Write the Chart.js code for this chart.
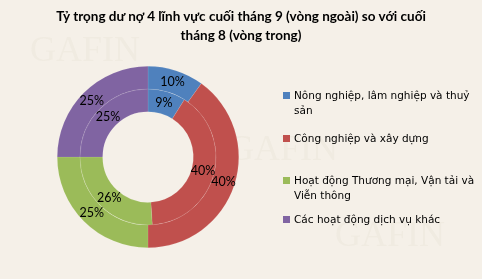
<!DOCTYPE html>
<html>
<head>
<meta charset="utf-8">
<script src="https://cdn.jsdelivr.net/npm/chart.js@4.4.1/dist/chart.umd.min.js"></script>
<style>
html,body{margin:0;padding:0;background:#F5F0E8;}
#wrap{position:relative;width:482px;height:279px;overflow:hidden;background:#F5F0E8;}
canvas{position:absolute;left:0;top:0;}
#title{position:absolute;left:0;top:7px;width:482px;text-align:center;font-family:Lato,"Open Sans",sans-serif;font-weight:bold;font-size:13.5px;line-height:19px;color:#000;}
#legend{position:absolute;left:283px;top:88px;width:192px;font-family:"DejaVu Sans",sans-serif;font-size:10.5px;line-height:15px;color:#000;}
.li{position:absolute;left:0;padding-left:11px;}
.sw{position:absolute;left:0;top:4px;width:7px;height:7px;}
</style>
</head>
<body>
<div id="wrap">
<canvas id="c" width="482" height="279"></canvas>
<div id="title">Tỷ trọng dư nợ 4 lĩnh vực cuối tháng 9 (vòng ngoài) so với cuối<br>tháng 8 (vòng trong)</div>
<div id="legend"></div>
</div>
<script>
const categories = ["Nông nghiệp, lâm nghiệp và thuỷ sản","Công nghiệp và xây dựng","Hoạt động Thương mại, Vận tải và Viễn thông","Các hoạt động dịch vụ khác"];
const septValues = [10, 40, 25, 25]; // outer ring
const augValues = [9, 40, 26, 25];   // inner ring
const colors = ["#4F81BD","#C0504D","#9BBB59","#8064A2"];

// HTML legend built from categories
const legendTops = [0, 43, 85, 124];
const leg = document.getElementById('legend');
categories.forEach((c,i)=>{
  const d = document.createElement('div');
  d.className='li';
  d.style.top = legendTops[i]+'px';
  d.style.width='185px';
  d.innerHTML = '<span class="sw" style="background:'+colors[i]+'"></span>'+c;
  leg.appendChild(d);
});

const watermark = {
  id:'watermark',
  beforeDraw(chart){
    const ctx = chart.ctx;
    ctx.save();
    ctx.fillStyle='rgba(120,100,70,0.035)';
    ctx.textBaseline='alphabetic';
    ctx.font='36px "Liberation Serif", serif';
    ctx.fillText('GAFIN',30,61);
    ctx.fillText('GAFIN',335,246);
    ctx.fillText('GAFIN',228,160);
    ctx.restore();
  }
};

const pctLabels = {
  id:'pctLabels',
  afterDatasetsDraw(chart){
    const ctx = chart.ctx;
    ctx.save();
    ctx.font='12.5px Lato, "Open Sans", sans-serif';
    ctx.fillStyle='#000';
    ctx.textAlign='center';
    ctx.textBaseline='middle';
    chart.data.datasets.forEach((ds,di)=>{
      const meta = chart.getDatasetMeta(di);
      meta.data.forEach((arc,i)=>{
        const p = arc.tooltipPosition();
        ctx.fillText(ds.data[i]+'%', p.x, p.y);
      });
    });
    ctx.restore();
  }
};

new Chart(document.getElementById('c'),{
  type:'doughnut',
  data:{
    labels:categories,
    datasets:[
      {label:'Tháng 9', data:septValues, backgroundColor:colors, borderColor:'rgba(255,255,255,0.18)', borderWidth:0.5},
      {label:'Tháng 8', data:augValues, backgroundColor:colors, borderColor:'rgba(255,255,255,0.18)', borderWidth:0.5}
    ]
  },
  options:{
    responsive:false,
    animation:false,
    cutout:'50%',
    layout:{padding:{left:57,top:66,right:243,bottom:31}},
    plugins:{legend:{display:false},title:{display:false},tooltip:{enabled:false}}
  },
  plugins:[watermark,pctLabels]
});
</script>
</body>
</html>
